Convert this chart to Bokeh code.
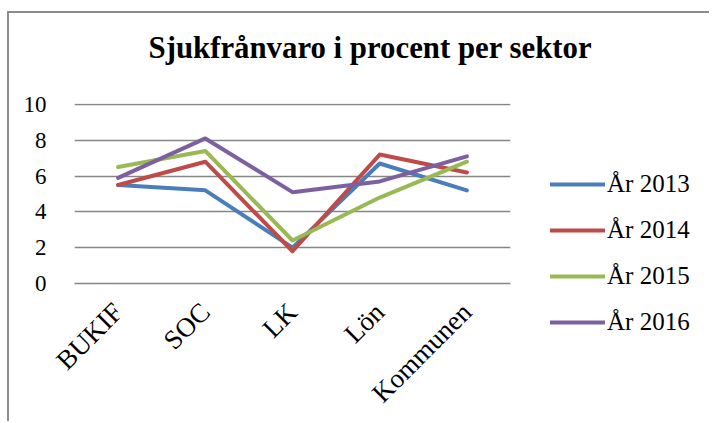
import math
from bokeh.plotting import figure
from bokeh.layouts import row, column
from bokeh.models import Range1d, FactorRange, Legend, LegendItem, Label
from bokeh.embed import file_html
from bokeh.resources import INLINE

title_text = "Sjukfrånvaro i procent per sektor"
categories = ["BUKIF", "SOC", "LK", "Lön", "Kommunen"]
series_names = ["År 2013", "År 2014", "År 2015", "År 2016"]
y2013 = [5.5, 5.2, 2.0, 6.7, 5.2]
y2014 = [5.5, 6.8, 1.8, 7.2, 6.2]
y2015 = [6.5, 7.4, 2.4, 4.8, 6.8]
y2016 = [5.9, 8.1, 5.1, 5.7, 7.1]
y_ticks = [0, 2, 4, 6, 8, 10]
colors = ["#4a7ebb", "#be4b48", "#98b954", "#7d60a0"]

SERIF = "Liberation Serif"
GRID = "#868686"

def bare(fig):
    fig.outline_line_color = None
    fig.xgrid.grid_line_color = None
    fig.ygrid.grid_line_color = None
    fig.border_fill_color = "white"
    fig.background_fill_color = "white"
    fig.frame_align = False

# ---- title strip ----
TW, TH = 700, 78
t = figure(width=TW, height=TH, output_backend="svg", toolbar_location=None,
           x_axis_type=None, y_axis_type=None, min_border=0,
           x_range=Range1d(0, TW), y_range=Range1d(0, TH))
bare(t)
t.add_layout(Label(x=139, y=44, text=title_text, text_font=SERIF,
                   text_font_size="30.8px", text_font_style="bold",
                   text_color="#000000", text_baseline="alphabetic",
                   text_align="left"))

# ---- main chart ----
p = figure(width=506, height=330, x_range=FactorRange(*categories),
           y_range=Range1d(0, 10.05), output_backend="svg", toolbar_location=None,
           min_border_left=65, min_border_right=5, min_border_top=12,
           min_border_bottom=138)
p.outline_line_color = None
p.background_fill_color = "white"
p.border_fill_color = "white"
p.frame_align = False

p.xgrid.grid_line_color = None
p.ygrid.grid_line_color = GRID
p.ygrid.grid_line_width = 1.5
p.yaxis.ticker = y_ticks

p.yaxis.axis_line_color = None
p.yaxis.major_tick_line_color = None
p.yaxis.minor_tick_line_color = None
p.yaxis.major_label_text_font = SERIF
p.yaxis.major_label_text_font_size = "23px"
p.yaxis.major_label_text_color = "#000000"
p.yaxis.major_label_standoff = 22

p.xaxis.axis_line_color = GRID
p.xaxis.axis_line_width = 1.5
p.xaxis.major_tick_line_color = None
p.xaxis.minor_tick_line_color = None
p.xaxis.major_label_orientation = math.pi / 4
p.xaxis.major_label_text_font = SERIF
p.xaxis.major_label_text_font_size = "27px"
p.xaxis.major_label_text_color = "#000000"
p.xaxis.major_label_standoff = 18

all_series = [y2013, y2014, y2015, y2016]
for ys, c in zip(all_series, colors):
    p.line(categories, ys, line_color=c, line_width=4,
           line_join="round", line_cap="round")

# ---- legend panel ----
q = figure(width=194, height=330, output_backend="svg", toolbar_location=None,
           x_axis_type=None, y_axis_type=None, min_border=0,
           x_range=FactorRange(*categories), y_range=Range1d(0, 10))
bare(q)
items = []
for name, ys, c in zip(series_names, all_series, colors):
    # single-point line: draws nothing itself, only provides the legend swatch
    r = q.line(categories[:1], ys[:1], line_color=c, line_width=4, line_cap="round")
    items.append(LegendItem(label=name, renderers=[r]))
legend = Legend(items=items, location=(35, 84), border_line_color=None,
                background_fill_alpha=0, padding=0, margin=0,
                glyph_width=55, glyph_height=20, label_height=30,
                spacing=16, label_standoff=2,
                label_text_font=SERIF, label_text_font_size="25px",
                label_text_color="#000000")
q.add_layout(legend, "center")

layout = column(t, row(p, q, spacing=0), spacing=0)
layout.margin = (11, 0, 0, 7)
layout.styles = {"border-left": "2px solid #8c8c8c", "border-top": "2px solid #8c8c8c"}

open("out.html", "w").write(file_html(layout, INLINE))
